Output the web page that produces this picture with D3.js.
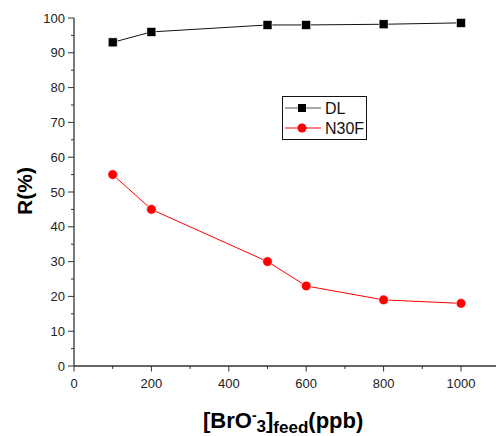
<!DOCTYPE html>
<html>
<head>
<meta charset="utf-8">
<script src="https://cdn.jsdelivr.net/npm/d3@7"></script>
<style>
  body { margin: 0; background: #fff; }
  text { font-family: "Liberation Sans", Arial, sans-serif; }
</style>
</head>
<body>
<svg id="chart" width="496" height="436"></svg>
<script>
// data
var feed = [100, 200, 500, 600, 800, 1000];
var dl = [93, 96, 98, 98, 98.2, 98.6];
var n30f = [55, 45, 30, 23, 19, 18];
var seriesNames = ["DL", "N30F"];
var xTicks = [0, 200, 400, 600, 800, 1000];
var yTicks = [0, 10, 20, 30, 40, 50, 60, 70, 80, 90, 100];

var svg = d3.select("#chart");

var x = d3.scaleLinear().domain([0, 1100]).range([74, 499.7]);
var y = d3.scaleLinear().domain([0, 100]).range([366, 18]);

// axes
var xAxis = svg.append("g").attr("transform", "translate(0,366)");
xAxis.append("line")
  .attr("x1", x(0)).attr("x2", 496)
  .attr("stroke", "#333").attr("stroke-width", 1.3);
xAxis.selectAll(".minor")
  .data(d3.range(100, 1100, 200))
  .enter().append("line")
  .attr("x1", d => x(d)).attr("x2", d => x(d))
  .attr("y1", 0).attr("y2", 3)
  .attr("stroke", "#333");
xAxis.selectAll(".major")
  .data(xTicks)
  .enter().append("line")
  .attr("x1", d => x(d)).attr("x2", d => x(d))
  .attr("y1", 0).attr("y2", 5.5)
  .attr("stroke", "#333");
xAxis.selectAll("text")
  .data(xTicks)
  .enter().append("text")
  .attr("x", d => x(d))
  .attr("y", 22)
  .attr("text-anchor", "middle")
  .attr("font-size", 13)
  .attr("fill", "#222")
  .text(d => d);

var yAxis = svg.append("g").attr("transform", "translate(74,0)");
yAxis.append("line")
  .attr("y1", y(0)).attr("y2", y(100))
  .attr("stroke", "#333").attr("stroke-width", 1.3);
yAxis.selectAll(".minor")
  .data(d3.range(5, 100, 10))
  .enter().append("line")
  .attr("y1", d => y(d)).attr("y2", d => y(d))
  .attr("x1", 0).attr("x2", -3)
  .attr("stroke", "#333");
yAxis.selectAll(".major")
  .data(yTicks)
  .enter().append("line")
  .attr("y1", d => y(d)).attr("y2", d => y(d))
  .attr("x1", 0).attr("x2", -6)
  .attr("stroke", "#333");
yAxis.selectAll("text")
  .data(yTicks)
  .enter().append("text")
  .attr("x", -9)
  .attr("y", d => y(d))
  .attr("dy", "0.35em")
  .attr("text-anchor", "end")
  .attr("font-size", 13)
  .attr("fill", "#222")
  .text(d => d);

// axis titles
svg.append("text")
  .attr("transform", "translate(32,191) rotate(-90)")
  .attr("text-anchor", "middle")
  .attr("font-size", 21)
  .attr("font-weight", "bold")
  .attr("fill", "#000")
  .text("R(%)");

var xt = svg.append("text")
  .attr("x", 203).attr("y", 428)
  .attr("font-size", 22)
  .attr("font-weight", "bold")
  .attr("fill", "#000");
xt.append("tspan").text("[BrO");
xt.append("tspan").attr("font-size", 14).attr("dy", -8).text("-");
xt.append("tspan").attr("font-size", 17).attr("dy", 12).text("3");
xt.append("tspan").attr("dy", -4).text("]");
xt.append("tspan").attr("font-size", 17).attr("dy", 5).text("feed");
xt.append("tspan").attr("dy", -5).text("(ppb)");

// lines
var line = d3.line().x(d => x(d[0])).y(d => y(d[1]));

var dlPts = feed.map((f, i) => [f, dl[i]]);
var nPts = feed.map((f, i) => [f, n30f[i]]);

svg.append("path")
  .datum(dlPts)
  .attr("d", line)
  .attr("fill", "none")
  .attr("stroke", "#111")
  .attr("stroke-width", 1);

svg.append("path")
  .datum(nPts)
  .attr("d", line)
  .attr("fill", "none")
  .attr("stroke", "#ff0000")
  .attr("stroke-width", 1);

svg.selectAll(".sq")
  .data(dlPts)
  .enter().append("rect")
  .attr("x", d => x(d[0]) - 4.5)
  .attr("y", d => y(d[1]) - 4.5)
  .attr("width", 9).attr("height", 9)
  .attr("fill", "#000")
  .attr("stroke", "#fff").attr("stroke-width", 0.6);

svg.selectAll(".dot")
  .data(nPts)
  .enter().append("circle")
  .attr("cx", d => x(d[0]))
  .attr("cy", d => y(d[1]))
  .attr("r", 4.8)
  .attr("fill", "#ff0000")
  .attr("stroke", "#fff").attr("stroke-width", 0.6);

// legend
var lg = svg.append("g");
lg.append("rect")
  .attr("x", 282.5).attr("y", 96.5)
  .attr("width", 84).attr("height", 43)
  .attr("fill", "#fff")
  .attr("stroke", "#111").attr("stroke-width", 1);

var rows = lg.selectAll(".row")
  .data(seriesNames)
  .enter().append("g")
  .attr("transform", (d, i) => "translate(0," + (108 + i * 20) + ")");
rows.append("line")
  .attr("x1", 285).attr("x2", 321)
  .attr("stroke", (d, i) => i === 0 ? "#555" : "#ff0000")
  .attr("stroke-width", 1);
rows.each(function (d, i) {
  if (i === 0) {
    d3.select(this).append("rect")
      .attr("x", 298).attr("y", -4).attr("width", 8).attr("height", 8)
      .attr("fill", "#000");
  } else {
    d3.select(this).append("circle")
      .attr("cx", 302).attr("cy", 0).attr("r", 4.5)
      .attr("fill", "#ff0000");
  }
});
rows.append("text")
  .attr("x", 325).attr("y", 0)
  .attr("dy", "0.36em")
  .attr("font-size", 16)
  .attr("fill", "#111")
  .text(d => d);
</script>
</body>
</html>
